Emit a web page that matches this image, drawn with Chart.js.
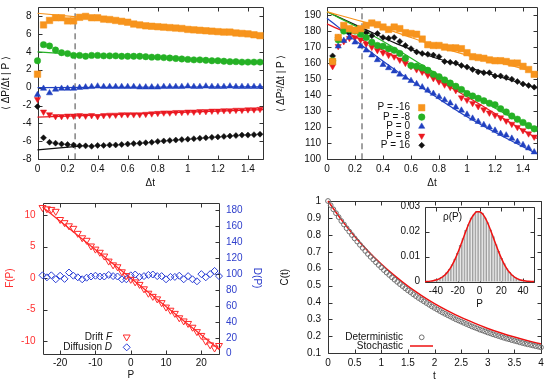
<!DOCTYPE html>
<html>
<head>
<meta charset="utf-8">
<title>Drift, diffusion and correlation estimates</title>
<script src="https://cdn.jsdelivr.net/npm/chart.js@4.4.1/dist/chart.umd.min.js"></script>
<style>
  html, body { margin: 0; padding: 0; background: #fff; }
  body { position: relative; width: 550px; height: 388px; overflow: hidden; }
  canvas { position: absolute; }
</style>
</head>
<body>
<canvas id="driftChart"></canvas>
<canvas id="diffChart"></canvas>
<canvas id="fdChart"></canvas>
<canvas id="corrChart"></canvas>
<canvas id="rhoChart"></canvas>
<script>
// ---- data: top-left, <dP/dt | P> against dt ----
const dt1 = [0,0.04,0.08,0.12,0.16,0.2,0.24,0.28,0.32,0.36,0.4,0.44,0.48,0.52,0.56,0.6,0.64,0.68,0.72,0.76,0.8,0.84,0.88,0.92,0.96,1,1.04,1.08,1.12,1.16,1.2,1.24,1.28,1.32,1.36,1.4,1.44,1.48];
const orange1 = [1.5,7.0,7.5,7.8,7.8,7.45,7.45,7.85,7.95,7.8,7.8,7.65,7.6,7.5,7.4,7.3,7.1,7.0,6.9,6.85,6.8,6.75,6.7,6.65,6.6,6.5,6.45,6.4,6.35,6.3,6.25,6.2,6.2,6.1,6.05,6.0,5.9,5.8];
const green1 = [3.0,4.8,4.65,4.2,3.9,3.8,3.6,3.6,3.5,3.6,3.6,3.55,3.55,3.55,3.5,3.5,3.5,3.5,3.45,3.4,3.4,3.35,3.3,3.25,3.2,3.15,3.1,3.1,3.05,3.0,3.0,2.95,2.9,2.9,2.85,2.85,2.85,2.85];
const blue1 = [-0.8,-0.1,-0.6,-0.2,-0.1,-0.1,-0.1,0,0.05,0.1,0.15,0.1,0.1,0.1,0.1,0.1,0.1,0.05,0.05,0.05,0.05,0.1,0.1,0.1,0.1,0.15,0.1,0.1,0.15,0.1,0.1,0.1,0.15,0.1,0.1,0.1,0.1,0.1];
const red1 = [-1.3,-2.7,-3.0,-3.2,-3.2,-3.15,-3.15,-3.1,-3.15,-3.1,-3.2,-3.1,-3.05,-3.05,-3.0,-3.0,-3.0,-3.0,-2.95,-2.9,-2.85,-2.8,-2.8,-2.75,-2.75,-2.7,-2.7,-2.65,-2.65,-2.6,-2.6,-2.55,-2.55,-2.5,-2.5,-2.45,-2.45,-2.4];
const black1 = [-2.1,-5.6,-6.1,-6.2,-6.3,-6.35,-6.4,-6.5,-6.5,-6.55,-6.45,-6.45,-6.4,-6.4,-6.35,-6.3,-6.25,-6.2,-6.15,-6.1,-6.0,-5.95,-5.9,-5.85,-5.8,-5.75,-5.7,-5.65,-5.6,-5.55,-5.5,-5.45,-5.4,-5.35,-5.3,-5.3,-5.25,-5.2];
const fitShortX = [0, 0.3];
const fitLongX = [0, 1.5];
const orangeFit1 = [8.3, 7.85];
const greenFit1 = [4.0, 3.65];
const blueFit1 = [0, 0.1];
const redFit1 = [-3.3, -2.45];
const blackFit1 = [-6.95, -6.5];
const cutX = [0.25, 0.25];
const cutY1 = [-8, 9];
const dtTicks = [0,0.2,0.4,0.6,0.8,1,1.2,1.4];
const driftTicks = [-8,-6,-4,-2,0,2,4,6,8];

// ---- data: top-right, <dP^2/dt | P> against dt ----
const dt2 = dt1.slice(1);
const orange2 = [161,176,183.5,181.5,180.5,181.5,183.5,185,184,182.5,181,182.5,181.5,179,178.5,178,175,171.5,171,171,170,169.5,169.5,169,166.5,164,163.5,163,162,161.5,161.5,161,160,160,158,156,153];
const green2 = [161.5,174.5,180,181,180,178,176,173,171,170.5,169,168,166,163,158.5,158,157,155.5,153,151.5,149.5,147.5,145.5,143.5,141,139.5,138,136.5,135,134,131.5,129.5,127,125,123,121,119];
const blue2 = [160.5,170.5,174,176,173,170.5,168,165,162,159,157,155,153,151,149,147,145,143,141,139,137,135,132.5,130.5,128,125.5,123.5,121.5,120,118,116,115,113,111,109,107,104.5];
const red2 = [158,170.5,173.5,175.5,176,174.5,172,170,168,166.5,165,164,162,160,158,156,154.5,152.5,150.5,148.5,146.5,145,143,138.5,137,135,133,131,129,127.5,126,124,122,120,118,116,114];
const black2 = [164.5,176,180.5,179,180,181,179,177,178.5,176,175.5,176,173.5,171,169,167,166,165.5,165,164,161,160.5,160,158.5,157.5,156,154.5,154,154,152,152,151,150,148.5,147,146,145];
const fitX2 = [0,0.25,0.5,0.75,1,1.25,1.5];
const orangeFit2 = [192,186,179,171.5,165,160,154];
const greenFit2 = [192,181,168.5,155,142,129.5,117.5];
const blueFit2 = [188,171,155,140.5,126.5,114.5,103.5];
const redFit2 = [184.5,174.5,163.5,151.5,139,126,113];
const blackFit2 = [192,182,172,164,157.5,151,144.5];
const cutY2 = [100, 195];
const diffTicks = [100,110,120,130,140,150,160,170,180,190];
const pLabels = ['P = -16', 'P = -8', 'P = 0', 'P = 8', 'P = 16'];

// ---- data: bottom-left, F(P) and D(P) ----
const pBins = [-25,-23.75,-22.5,-21.25,-20,-18.75,-17.5,-16.25,-15,-13.75,-12.5,-11.25,-10,-8.75,-7.5,-6.25,-5,-3.75,-2.5,-1.25,0,1.25,2.5,3.75,5,6.25,7.5,8.75,10,11.25,12.5,13.75,15,16.25,17.5,18.75,20,21.25,22.5,23.75,25];
const driftF = [11.2,11.0,10.9,10.6,9.3,8.8,8.3,7.9,7.1,6.4,6.0,5.1,4.6,4.1,3.5,2.7,2.1,1.8,1.0,0.4,-0.2,-0.6,-1.0,-1.7,-2.4,-2.9,-3.3,-3.9,-4.6,-5.1,-5.6,-6.3,-6.8,-7.2,-7.8,-8.5,-9.1,-10.0,-10.6,-11.1,-10.7];
const diffD = [98.5,96,98.5,93.5,98,94,102,98,96,93.5,95.5,97,98,97,97,99,97.5,97,93.5,93.5,98.5,99.5,96.5,97.5,99,99.5,97.5,97.5,93.5,96.5,96.5,98,93.5,97.5,93.5,91,100,96,100,104,97.5];
const fitPX = [-25, 25];
const fitF = [11.3, -11.3];
const pTicks = [-20,-10,0,10,20];
const fTicks = [-10,-5,0,5,10];
const dTicks = [0,20,40,60,80,100,120,140,160,180];

// ---- data: bottom-right, C(t) and inset rho(P) ----
const tDet = [0,0.05,0.1,0.15,0.2,0.25,0.3,0.35,0.4,0.45,0.5,0.55,0.6,0.65,0.7,0.75,0.8,0.85,0.9,0.95,1,1.05,1.1,1.15,1.2,1.25,1.3,1.35,1.4,1.45,1.5,1.55,1.6,1.65,1.7,1.75,1.8,1.85,1.9,1.95,2,2.05,2.1,2.15,2.2,2.25,2.3,2.35,2.4,2.45,2.5,2.55,2.6,2.65,2.7,2.75,2.8,2.85,2.9,2.95,3,3.05,3.1,3.15,3.2,3.25,3.3,3.35,3.4,3.45,3.5,3.55,3.6,3.65,3.7,3.75,3.8,3.85,3.9,3.95,4];
const cDet = [1,0.975,0.951,0.928,0.905,0.882,0.861,0.839,0.819,0.799,0.779,0.76,0.741,0.723,0.705,0.687,0.67,0.654,0.638,0.622,0.607,0.592,0.577,0.563,0.549,0.535,0.522,0.509,0.497,0.484,0.472,0.461,0.449,0.438,0.427,0.417,0.407,0.397,0.387,0.377,0.368,0.359,0.35,0.341,0.333,0.325,0.317,0.309,0.301,0.294,0.287,0.28,0.273,0.266,0.259,0.253,0.247,0.24,0.235,0.229,0.223,0.218,0.212,0.207,0.202,0.197,0.192,0.187,0.183,0.178,0.174,0.17,0.165,0.161,0.157,0.153,0.15,0.146,0.142,0.139,0.135];
const tSto = [0,0.25,0.5,0.75,1,1.25,1.5,1.75,2,2.25,2.5,2.75,3,3.25,3.5,3.75,4];
const cSto = [1,0.89,0.792,0.705,0.628,0.559,0.497,0.443,0.394,0.351,0.312,0.278,0.247,0.22,0.196,0.174,0.155];
const tTicks = [0,0.5,1,1.5,2,2.5,3,3.5,4];
const cTicks = [0.1,0.2,0.3,0.4,0.5,0.6,0.7,0.8,0.9,1];
const pHist = [-50,-47.5,-45,-42.5,-40,-37.5,-35,-32.5,-30,-27.5,-25,-22.5,-20,-17.5,-15,-12.5,-10,-7.5,-5,-2.5,0,2.5,5,7.5,10,12.5,15,17.5,20,22.5,25,27.5,30,32.5,35,37.5,40,42.5,45,47.5,50];
const rhoHist = [0,0,0.0002,0.0004,0.0007,0.0011,0.0017,0.0025,0.0036,0.005,0.0068,0.009,0.0114,0.0145,0.0172,0.0205,0.0228,0.0255,0.0268,0.0281,0.0279,0.0274,0.0255,0.0236,0.0207,0.018,0.0148,0.0121,0.0093,0.0072,0.0052,0.0037,0.0026,0.0017,0.0011,0.0007,0.0004,0.0002,0.0001,0,0];
const rhoFit = [0.0001,0.00013,0.00023,0.00039,0.00065,0.00103,0.0016,0.0024,0.00349,0.00493,0.00674,0.00893,0.01148,0.01431,0.01728,0.02024,0.02299,0.0253,0.02701,0.02794,0.02803,0.02726,0.0257,0.02349,0.02082,0.01788,0.01489,0.01202,0.00941,0.00715,0.00526,0.00375,0.00259,0.00174,0.00113,0.00071,0.00044,0.00026,0.00015,0.00008,0.00004];
const rhoXTicks = [-40,-20,0,20,40];
const rhoYTicks = [0,0.01,0.02,0.03];

// colours
const ORANGE = '#f7941d', GREEN = '#25b125', BLUE = '#2040c0', RED = '#ea1820', BLACK = '#111111';
const FRED = '#ff2a2a', DBLUE = '#2b3fd6';

Chart.defaults.font.family = '"Liberation Sans", Arial, Helvetica, sans-serif';
Chart.defaults.font.size = 10;
Chart.defaults.color = '#111';

const FONT = '10px "Liberation Sans", Arial, Helvetica, sans-serif';

function fmt(v) {
    const r = Math.round(v * 1000) / 1000;
    return String(r === 0 ? 0 : r);
}

// gnuplot style marker shapes, used for the keys
function drawSymbol(ctx, style, x, y, r, rot) {
    ctx.beginPath();
    if (style === 'circle') {
        ctx.arc(x, y, r, 0, Math.PI * 2);
    } else if (style === 'rect') {
        const s = r * Math.SQRT1_2;
        ctx.rect(x - s, y - s, 2 * s, 2 * s);
    } else if (style === 'rectRot') {
        ctx.moveTo(x, y - r); ctx.lineTo(x + r, y); ctx.lineTo(x, y + r); ctx.lineTo(x - r, y);
        ctx.closePath();
    } else {
        const d = rot ? -1 : 1;
        ctx.moveTo(x, y - d * r);
        ctx.lineTo(x + r * 0.866, y + d * r * 0.5);
        ctx.lineTo(x - r * 0.866, y + d * r * 0.5);
        ctx.closePath();
    }
}

// border box with inward ticks on every side
const framePlugin = {
    id: 'frame',
    defaults: { color: '#333', len: 4, mirrorY: true },
    beforeDatasetsDraw(chart, args, opts) {
        const { ctx, chartArea: a } = chart;
        ctx.save();
        ctx.strokeStyle = opts.color;
        ctx.lineWidth = 1;
        ctx.beginPath();
        const L = Math.round(a.left) + 0.5, T = Math.round(a.top) + 0.5;
        const R = Math.round(a.right) + 0.5, B = Math.round(a.bottom) + 0.5;
        ctx.rect(L, T, R - L, B - T);
        for (const s of Object.values(chart.scales)) {
            for (const t of s.ticks) {
                const p = Math.round(s.getPixelForValue(t.value)) + 0.5;
                if (s.isHorizontal()) {
                    ctx.moveTo(p, B); ctx.lineTo(p, B - opts.len);
                    ctx.moveTo(p, T); ctx.lineTo(p, T + opts.len);
                } else {
                    if (opts.mirrorY || s.position === 'left') { ctx.moveTo(L, p); ctx.lineTo(L + opts.len, p); }
                    if (opts.mirrorY || s.position === 'right') { ctx.moveTo(R, p); ctx.lineTo(R - opts.len, p); }
                }
            }
        }
        ctx.stroke();
        ctx.restore();
    }
};

// keys: label right-aligned, sample to its right; plain notes when no dataset
const keyPlugin = {
    id: 'keys',
    afterDraw(chart, args, opts) {
        if (!opts.items) return;
        const ctx = chart.ctx;
        ctx.save();
        ctx.textBaseline = 'middle';
        for (const it of opts.items) {
            ctx.fillStyle = '#111';
            ctx.font = FONT;
            if (it.ds === undefined) {
                ctx.textAlign = 'left';
                ctx.fillText(it.text, it.x, it.y);
                continue;
            }
            ctx.textAlign = 'right';
            let x = it.x;
            if (it.italic) {
                ctx.font = 'italic ' + FONT;
                ctx.fillText(it.italic, x, it.y);
                x -= ctx.measureText(it.italic).width;
                ctx.font = FONT;
            }
            ctx.fillText(it.text, x, it.y);
            const ds = chart.data.datasets[it.ds];
            if (!ds.pointRadius) {
                ctx.strokeStyle = ds.borderColor;
                ctx.lineWidth = ds.borderWidth;
                ctx.beginPath();
                ctx.moveTo(it.sx - 11.5, it.y); ctx.lineTo(it.sx + 11.5, it.y);
                ctx.stroke();
            } else {
                drawSymbol(ctx, ds.pointStyle, it.sx, it.y, ds.pointRadius, ds.pointRotation);
                ctx.fillStyle = ds.pointBackgroundColor;
                ctx.strokeStyle = ds.pointBorderColor;
                ctx.lineWidth = ds.pointBorderWidth;
                ctx.fill();
                ctx.stroke();
            }
        }
        ctx.restore();
    }
};

Chart.register(framePlugin, keyPlugin);

function pts(xs, ys) {
    return xs.map((x, i) => ({ x: x, y: ys[i] }));
}

function marker(xs, ys, color, style, r, extra) {
    return Object.assign({
        data: pts(xs, ys),
        showLine: false,
        pointStyle: style,
        pointRadius: r,
        pointRotation: 0,
        pointBackgroundColor: color,
        pointBorderColor: color,
        pointBorderWidth: 0.5,
        clip: false,
        order: 0
    }, extra || {});
}

function hollow(xs, ys, color, style, r, extra) {
    return marker(xs, ys, color, style, r, Object.assign({
        pointBackgroundColor: 'rgba(255,255,255,0)',
        pointBorderWidth: 1
    }, extra || {}));
}

function curve(xs, ys, color, extra) {
    return Object.assign({
        data: pts(xs, ys),
        showLine: true,
        borderColor: color,
        borderWidth: 1.2,
        pointRadius: 0,
        clip: false,
        order: 1
    }, extra || {});
}

function axis(o) {
    const horizontal = o.position === 'bottom';
    return {
        type: 'linear',
        position: o.position,
        min: o.min,
        max: o.max,
        grid: { display: false, drawTicks: false },
        border: { display: false },
        afterBuildTicks: s => { s.ticks = o.ticks.map(v => ({ value: v })); },
        afterFit: s => {
            if (horizontal) s.height = o.size; else s.width = o.size;
            // keep the plot box exactly where the layout puts it
            s.paddingTop = 0; s.paddingBottom = 0; s.paddingLeft = 0; s.paddingRight = 0;
        },
        ticks: {
            padding: o.pad,
            color: o.color || '#111',
            autoSkip: false,
            maxRotation: 0,
            callback: v => fmt(v)
        },
        title: {
            display: !!o.title,
            text: o.title || '',
            color: o.color || '#111',
            font: { size: 10, lineHeight: 1 },
            padding: { top: o.tpad, bottom: o.tpad }
        }
    };
}

function chartOptions(scales, padding, plugins) {
    return {
        responsive: false,
        animation: false,
        events: [],
        layout: { padding: padding },
        scales: scales,
        plugins: Object.assign({ legend: { display: false }, tooltip: { enabled: false } }, plugins || {})
    };
}

function place(id, x, y, w, h) {
    const c = document.getElementById(id);
    c.width = w; c.height = h;
    c.style.left = x + 'px'; c.style.top = y + 'px';
    c.style.width = w + 'px'; c.style.height = h + 'px';
    return c;
}

// ---- top-left ----
new Chart(place('driftChart', 0, 0, 275, 194), {
    type: 'scatter',
    data: {
        datasets: [
            marker(dt1, orange1, ORANGE, 'rect', 4.6),
            marker(dt1, green1, GREEN, 'circle', 3.2),
            marker(dt1, blue1, BLUE, 'triangle', 3.6),
            marker(dt1, red1, RED, 'triangle', 3.6, { pointRotation: 180 }),
            marker(dt1, black1, BLACK, 'rectRot', 3),
            curve(fitShortX, orangeFit1, ORANGE),
            curve(fitShortX, greenFit1, GREEN),
            curve(fitLongX, blueFit1, BLUE),
            curve(fitLongX, redFit1, RED),
            curve(fitShortX, blackFit1, BLACK),
            curve(cutX, cutY1, '#444', { borderWidth: 1, borderDash: [6, 4] })
        ]
    },
    options: chartOptions({
        x: axis({ position: 'bottom', min: 0, max: 1.5, ticks: dtTicks, size: 34.7, pad: 4, title: 'Δt', tpad: 6 }),
        y: axis({ position: 'left', min: -8, max: 9, ticks: driftTicks, size: 37.5, pad: 6, title: '⟨ ΔP/Δt | P ⟩', tpad: 1 })
    }, { left: 0, top: 7, right: 12, bottom: 0 })
});

// ---- top-right ----
new Chart(place('diffChart', 275, 0, 275, 194), {
    type: 'scatter',
    data: {
        datasets: [
            marker(dt2, orange2, ORANGE, 'rect', 4.6),
            marker(dt2, green2, GREEN, 'circle', 3.3),
            marker(dt2, blue2, BLUE, 'triangle', 3.6),
            marker(dt2, red2, RED, 'triangle', 3.6, { pointRotation: 180 }),
            marker(dt2, black2, BLACK, 'rectRot', 3),
            curve(fitX2, orangeFit2, ORANGE, { cubicInterpolationMode: 'monotone' }),
            curve(fitX2, greenFit2, GREEN, { cubicInterpolationMode: 'monotone' }),
            curve(fitX2, blueFit2, BLUE, { cubicInterpolationMode: 'monotone' }),
            curve(fitX2, redFit2, RED, { cubicInterpolationMode: 'monotone' }),
            curve(fitX2, blackFit2, BLACK, { cubicInterpolationMode: 'monotone' }),
            curve(cutX, cutY2, '#444', { borderWidth: 1, borderDash: [6, 4] })
        ]
    },
    options: chartOptions({
        x: axis({ position: 'bottom', min: 0, max: 1.5, ticks: dtTicks, size: 34.7, pad: 4, title: 'Δt', tpad: 6 }),
        y: axis({ position: 'left', min: 100, max: 195, ticks: diffTicks, size: 52, pad: 6, title: '⟨ ΔP²/Δt | P ⟩', tpad: 1 })
    }, { left: 0, top: 7, right: 13, bottom: 0 }, {
        keys: {
            items: pLabels.map((label, i) => ({ text: label, ds: i, x: 135, sx: 146.7, y: 107.7 + i * 9.4 }))
        }
    })
});

// ---- bottom-left ----
new Chart(place('fdChart', 0, 194, 275, 194), {
    type: 'scatter',
    data: {
        datasets: [
            hollow(pBins, driftF, FRED, 'triangle', 4, { pointRotation: 180 }),
            hollow(pBins, diffD, DBLUE, 'rectRot', 3.5, { yAxisID: 'y2' }),
            curve(fitPX, fitF, FRED, { borderWidth: 1.2 })
        ]
    },
    options: chartOptions({
        x: axis({ position: 'bottom', min: -25, max: 25, ticks: pTicks, size: 34.3, pad: 4, title: 'P', tpad: 7.3 }),
        y: axis({ position: 'left', min: -12, max: 12, ticks: fTicks, size: 42.5, pad: 7, title: 'F(P)', tpad: 5, color: '#ff3030' }),
        y2: axis({ position: 'right', min: 0, max: 190, ticks: dTicks, size: 56, pad: 7, title: 'D(P)', tpad: 13.3, color: '#3040cc' })
    }, { left: 0, top: 8.5, right: 0, bottom: 0 }, {
        frame: { mirrorY: false },
        keys: {
            items: [
                { text: 'Drift ', italic: 'F', ds: 0, x: 112, sx: 126.7, y: 143 },
                { text: 'Diffusion ', italic: 'D', ds: 1, x: 112, sx: 126.7, y: 153.3 }
            ]
        }
    })
});

// ---- bottom-right ----
new Chart(place('corrChart', 275, 194, 275, 194), {
    type: 'scatter',
    data: {
        datasets: [
            hollow(tDet, cDet, '#707070', 'circle', 2.4),
            curve(tSto, cSto, '#ee1111', { borderWidth: 1.5, cubicInterpolationMode: 'monotone' })
        ]
    },
    options: chartOptions({
        x: axis({ position: 'bottom', min: 0, max: 4, ticks: tTicks, size: 34.7, pad: 4, title: 't', tpad: 6.3 }),
        y: axis({ position: 'left', min: 0.1, max: 1, ticks: cTicks, size: 53, pad: 7, title: 'C(t)', tpad: 5 })
    }, { left: 0, top: 7, right: 9, bottom: 0 }, {
        keys: {
            items: [
                { text: 'Deterministic', ds: 0, x: 128, sx: 146.7, y: 143.3 },
                { text: 'Stochastic', ds: 1, x: 128, sx: 146.5, y: 152 }
            ]
        }
    })
});

// ---- inset: rho(P) ----
new Chart(place('rhoChart', 380, 198, 165, 117), {
    type: 'scatter',
    data: {
        datasets: [
            {
                type: 'bar',
                data: pts(pHist, rhoHist),
                backgroundColor: '#e8e8e8',
                borderColor: '#a0a0a0',
                borderWidth: 1,
                barPercentage: 1,
                categoryPercentage: 1,
                order: 2
            },
            curve(pHist, rhoFit, '#ee1111', { borderWidth: 1.5, cubicInterpolationMode: 'monotone', order: 0 })
        ]
    },
    options: chartOptions({
        x: Object.assign(axis({ position: 'bottom', min: -50, max: 50, ticks: rhoXTicks, size: 33.3, pad: 4, title: 'P', tpad: 6 }), { offset: false }),
        y: axis({ position: 'left', min: 0, max: 0.03, ticks: rhoYTicks, size: 45, pad: 5 })
    }, { left: 0, top: 8.7, right: 11, bottom: 0 }, {
        keys: { items: [{ text: 'ρ(P)', x: 63, y: 19 }] }
    })
});
</script>
</body>
</html>
